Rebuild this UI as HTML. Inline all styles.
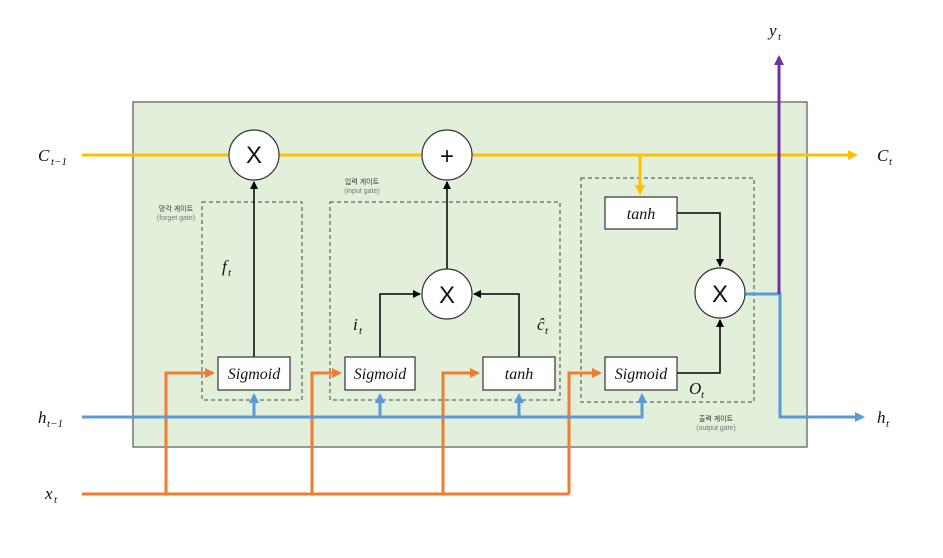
<!DOCTYPE html>
<html><head><meta charset="utf-8"><style>
body{margin:0;background:#fff}
svg{display:block}
.m{font-family:"Liberation Serif",serif;font-style:italic;font-size:17px;fill:#111}
.s{font-family:"Liberation Serif",serif;font-style:italic;font-size:11px;fill:#111}
.k{font-family:"Liberation Sans","Noto Sans CJK KR",sans-serif;font-size:7px;fill:#333;text-anchor:middle}
.g{font-family:"Liberation Sans",sans-serif;font-size:7px;fill:#777;text-anchor:middle}
.b{font-family:"Liberation Serif",serif;font-style:italic;font-size:16px;fill:#111;text-anchor:middle}
</style></head><body>
<svg width="943" height="558" viewBox="0 0 943 558">
<defs>
<marker id="ay" markerWidth="10" markerHeight="10" refX="8" refY="5" orient="auto" markerUnits="userSpaceOnUse"><path d="M0,0 L10,5 L0,10z" fill="#ffc000"/></marker>
<marker id="ab" markerWidth="10" markerHeight="10" refX="8" refY="5" orient="auto" markerUnits="userSpaceOnUse"><path d="M0,0 L10,5 L0,10z" fill="#5b9bd5"/></marker>
<marker id="ao" markerWidth="10" markerHeight="10" refX="8" refY="5" orient="auto" markerUnits="userSpaceOnUse"><path d="M0,0 L10,5 L0,10z" fill="#ed7d31"/></marker>
<marker id="ap" markerWidth="10" markerHeight="10" refX="8" refY="5" orient="auto" markerUnits="userSpaceOnUse"><path d="M0,0 L10,5 L0,10z" fill="#7030a0"/></marker>
<marker id="ak" markerWidth="8" markerHeight="8" refX="7" refY="4" orient="auto" markerUnits="userSpaceOnUse"><path d="M0,0 L8,4 L0,8z" fill="#000"/></marker>
</defs>
<rect x="133" y="102" width="674" height="345" fill="#e2efda" stroke="#777" stroke-width="1.5"/>
<g fill="none" stroke="#444" stroke-dasharray="4,3" stroke-width="1">
<rect x="202" y="202" width="100" height="198"/>
<rect x="330" y="202" width="230" height="198"/>
<rect x="581" y="178" width="173" height="224"/>
</g>
<text class="k" x="176" y="211">망각 게이트</text><text class="g" x="176" y="220">(forget gate)</text>
<text class="k" x="362" y="184">입력 게이트</text><text class="g" x="362" y="193">(input gate)</text>
<text class="k" x="716" y="421">출력 게이트</text><text class="g" x="716" y="430">(output gate)</text>
<!-- orange -->
<g fill="none" stroke="#ed7d31" stroke-width="3">
<path d="M82,494 H569"/>
<path d="M166,494 V373 H213" marker-end="url(#ao)"/>
<path d="M312,494 V373 H340" marker-end="url(#ao)"/>
<path d="M443,494 V373 H478" marker-end="url(#ao)"/>
<path d="M569,494 V373 H600" marker-end="url(#ao)"/>
</g>
<!-- blue -->
<g fill="none" stroke="#5b9bd5" stroke-width="3">
<path d="M82,417 H642 V395" marker-end="url(#ab)"/>
<path d="M254,417 V395" marker-end="url(#ab)"/>
<path d="M380,417 V395" marker-end="url(#ab)"/>
<path d="M519,417 V395" marker-end="url(#ab)"/>
<path d="M745,294 H780 V417 H863" marker-end="url(#ab)"/>
</g>
<!-- yellow -->
<g fill="none" stroke="#ffc000" stroke-width="3">
<path d="M82,155 H856" marker-end="url(#ay)"/>
<path d="M640,155 V193" marker-end="url(#ay)"/>
</g>
<path d="M779,294 V57" stroke="#7030a0" stroke-width="3" fill="none" marker-end="url(#ap)"/>
<!-- black -->
<g fill="none" stroke="#000" stroke-width="1.5">
<path d="M254,357 V182" marker-end="url(#ak)"/>
<path d="M447,269 V182" marker-end="url(#ak)"/>
<path d="M380,357 V294 H420" marker-end="url(#ak)"/>
<path d="M519,357 V294 H474" marker-end="url(#ak)"/>
<path d="M677,213 H720 V266" marker-end="url(#ak)"/>
<path d="M677,373 H720 V320" marker-end="url(#ak)"/>
</g>
<g fill="#fff" stroke="#333" stroke-width="1.2">
<circle cx="254" cy="155" r="25"/><circle cx="447" cy="155" r="25"/>
<circle cx="447" cy="294" r="25"/><circle cx="720" cy="293" r="25"/>
<rect x="218" y="357" width="72" height="33"/><rect x="345" y="357" width="70" height="33"/>
<rect x="483" y="357" width="72" height="33"/><rect x="605" y="357" width="72" height="33"/>
<rect x="605" y="197" width="72" height="32"/>
</g>
<g font-family="Liberation Sans,sans-serif" font-size="24" text-anchor="middle" fill="#111">
<text x="254" y="163">X</text><text x="447" y="164">+</text><text x="447" y="303">X</text><text x="720" y="302">X</text>
</g>
<text class="b" x="254" y="379">Sigmoid</text><text class="b" x="380" y="379">Sigmoid</text>
<text class="b" x="519" y="379">tanh</text><text class="b" x="641" y="379">Sigmoid</text>
<text class="b" x="641" y="219">tanh</text>
<text class="m" x="38" y="161">C</text><text class="s" x="51" y="165">t−1</text>
<text class="m" x="877" y="161">C</text><text class="s" x="889" y="165">t</text>
<text class="m" x="38" y="423">h</text><text class="s" x="47" y="427">t−1</text>
<text class="m" x="877" y="423">h</text><text class="s" x="886" y="427">t</text>
<text class="m" x="45" y="499">x</text><text class="s" x="54" y="503">t</text>
<text class="m" x="769" y="36">y</text><text class="s" x="778" y="40">t</text>
<text class="m" x="222" y="272">f</text><text class="s" x="228" y="276">t</text>
<text class="m" x="353" y="330">i</text><text class="s" x="359" y="334">t</text>
<text class="m" x="537" y="330">ĉ</text><text class="s" x="545" y="334">t</text>
<text class="m" x="689" y="394">O</text><text class="s" x="701" y="398">t</text>
</svg>
</body></html>
